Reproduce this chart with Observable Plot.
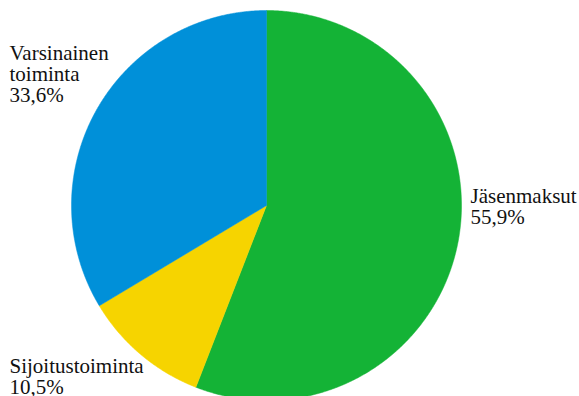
<!DOCTYPE html>
<html>
<head>
<meta charset="utf-8">
<script src="https://cdn.jsdelivr.net/npm/d3@7"></script>
<script src="https://cdn.jsdelivr.net/npm/@observablehq/plot@0.6"></script>
<style>
  html, body { margin: 0; padding: 0; background: #fff; overflow: hidden; }
  svg text { font-family: "Liberation Serif", "DejaVu Serif", serif !important; }
</style>
</head>
<body>
<div id="chart"></div>
<script>
// Data
const categories = ["Jäsenmaksut", "Sijoitustoiminta", "Varsinainen toiminta"];
const labelLines = ["Jäsenmaksut", "Sijoitustoiminta", "Varsinainen\ntoiminta"];
const values = [55.9, 10.5, 33.6];
const valueLabels = ["55,9%", "10,5%", "33,6%"];
const colors = ["#14b336", "#f6d400", "#0090d9"];

// Layout (pixels)
const W = 579, H = 396;
const cx = 266, cy = 205, R = 195;
const px2x = p => (p - cx) / R;
const py2y = p => (cy - p) / R;
// label top-left anchor positions in pixels
const labelPx = {
  "Jäsenmaksut": [470, 188],
  "Sijoitustoiminta": [9, 358],
  "Varsinainen toiminta": [9, 45]
};

// Build pie polygons via d3.pie
const pie = d3.pie().sort(null).value(d => d.value);
const rows = categories.map((c, i) => ({category: c, value: values[i], color: colors[i], label: labelLines[i] + "\n" + valueLabels[i]}));
const arcs = pie(rows);
const pts = [];
arcs.forEach(a => {
  const n = Math.max(8, Math.ceil((a.endAngle - a.startAngle) / 0.005));
  pts.push({category: a.data.category, x: 0, y: 0});
  for (let k = 0; k <= n; k++) {
    const t = a.startAngle + (a.endAngle - a.startAngle) * k / n;
    pts.push({category: a.data.category, x: Math.sin(t), y: Math.cos(t)});
  }
  pts.push({category: a.data.category, x: 0, y: 0});
});

const labels = rows.map(r => ({label: r.label, x: px2x(labelPx[r.category][0]), y: py2y(labelPx[r.category][1])}));

const chart = Plot.plot({
  width: W,
  height: H,
  margin: 0,
  x: {domain: [-1, 1], range: [cx - R, cx + R], axis: null},
  y: {domain: [-1, 1], range: [cy + R, cy - R], axis: null},
  color: {domain: categories, range: colors},
  style: {background: "#fff"},
  marks: [
    Plot.line(pts, {x: "x", y: "y", z: "category", fill: "category", stroke: "category", strokeWidth: 0.5, curve: "linear"}),
    Plot.text(labels, {x: "x", y: "y", text: "label", textAnchor: "start", lineAnchor: "top", fontSize: 21, lineHeight: 1.0, fill: "#111", fontFamily: "Liberation Serif, DejaVu Serif, serif"})
  ]
});
document.getElementById("chart").appendChild(chart);
</script>
</body>
</html>
